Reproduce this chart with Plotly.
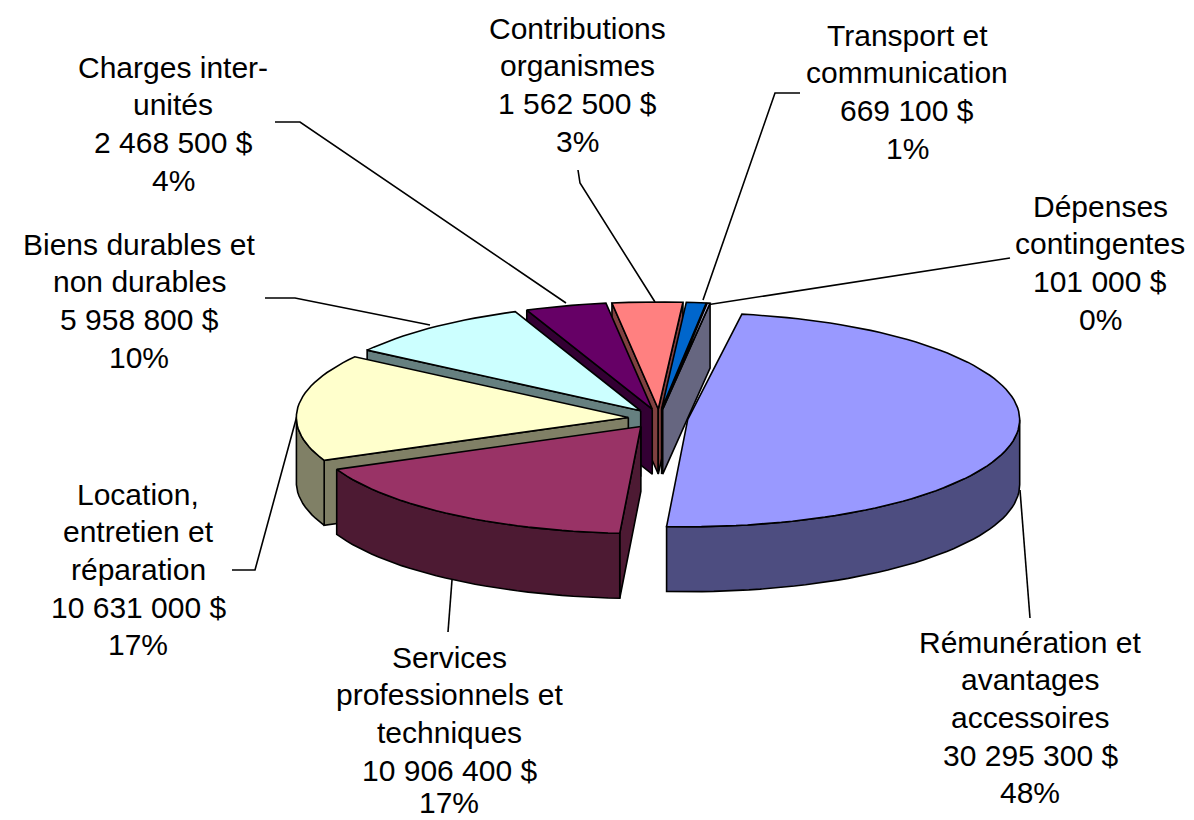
import math
import numpy as np
import plotly.graph_objects as go

# ---- data ----
categories = ["Rémunération et avantages accessoires", "Services professionnels et techniques",
              "Location, entretien et réparation", "Biens durables et non durables",
              "Charges inter-unités", "Contributions organismes",
              "Transport et communication", "Dépenses contingentes"]
values = [30295300, 10906400, 10631000, 5958800, 2468500, 1562500, 669100, 101000]
percent_labels = ["48%", "17%", "17%", "10%", "4%", "3%", "1%", "0%"]
label_lines = [["Rémunération et", "avantages", "accessoires"],
               ["Services", "professionnels et", "techniques"],
               ["Location,", "entretien et", "réparation"],
               ["Biens durables et", "non durables"],
               ["Charges inter-", "unités"],
               ["Contributions", "organismes"],
               ["Transport et", "communication"],
               ["Dépenses", "contingentes"]]

# ---- style and layout ----
top_colors = ["#9999FF", "#993366", "#FFFFCC", "#CCFFFF", "#660066", "#FF8080", "#0066CC", "#CCCCFF"]
wall_colors = ["#4D4D80", "#4D1A33", "#808066", "#668080", "#330033", "#804040", "#003366", "#666680"]
CX, CY, RX, RY, DEPTH = 658, 418.6, 332, 107, 65
EXPLODE, START = 0.09, 9.4
# small view distortion of the back of the pie (angle, shift in degrees)
WARP_T = [246.3, 307.5, 342, 356.5, 365.5, 369.4]
WARP_D = [0, -3, -4, -4, -0.5, -1.2]
label_x = [1030, 449, 138, 139, 173, 577, 907, 1100]
label_y = [642, 657, 494, 244, 67, 28, 35, 206]
LINE_H = 37.7
MAX_TEXT_Y = 802
leaders = ["M1030,618 L1020,490", "M448,632 L452,580", "M232,570 L255,570 L298,412",
           "M265,298 L295,298 L430,325", "M275,122 L300,122 L566,303",
           "M578,170 L580,183 L655,302", "M800,93 L775,93 L703,300", "M1010,258 L706,305"]


def point(t, off, r=1.0):
    a = math.radians(t + float(np.interp(t, WARP_T, WARP_D, left=0)))
    return (CX + RX * (off[0] + r * math.sin(a)), CY - RY * (off[1] + r * math.cos(a)))


def polygon(pts, color):
    return go.Scatter(x=[p[0] for p in pts] + [pts[0][0]], y=[p[1] for p in pts] + [pts[0][1]],
                      mode="lines", fill="toself", fillcolor=color,
                      line=dict(color="black", width=1.6), hoverinfo="skip", showlegend=False)


total = sum(values)
slices = []
t0 = START
for i, v in enumerate(values):
    t1 = t0 + 360 * v / total
    mid = math.radians((t0 + t1) / 2)
    slices.append(dict(i=i, t0=t0, t1=t1, mid=(t0 + t1) / 2,
                       off=(EXPLODE * math.sin(mid), EXPLODE * math.cos(mid))))
    t0 = t1

fig = go.Figure()
for s in sorted(slices, key=lambda q: -math.cos(math.radians(q["mid"]))):
    i, off = s["i"], s["off"]
    n = max(3, int((s["t1"] - s["t0"]) / 2))
    arc = [point(s["t0"] + (s["t1"] - s["t0"]) * k / n, off) for k in range(n + 1)]
    apex = point(0, off, 0.0)
    cxm = sum(p[0] for p in arc + [apex]) / (n + 2)
    cym = sum(p[1] for p in arc + [apex]) / (n + 2)
    # radial walls that face the viewer
    for rim in (arc[0], arc[-1]):
        ex, ey = rim[0] - apex[0], rim[1] - apex[1]
        nx, ny = -ey, ex
        if nx * (cxm - apex[0]) + ny * (cym - apex[1]) > 0:
            nx, ny = -nx, -ny
        if ny > 0:
            fig.add_trace(polygon([apex, rim, (rim[0], rim[1] + DEPTH), (apex[0], apex[1] + DEPTH)],
                                  wall_colors[i]))
    # outer wall on the front half of the pie
    lo, hi = max(s["t0"], 90), min(s["t1"], 270)
    if hi > lo:
        m = max(3, int((hi - lo) / 2))
        wall = [point(lo + (hi - lo) * k / m, off) for k in range(m + 1)]
        fig.add_trace(polygon(wall + [(p[0], p[1] + DEPTH) for p in reversed(wall)], wall_colors[i]))
    fig.add_trace(polygon([apex] + arc, top_colors[i]))

annotations = []
for i, v in enumerate(values):
    amount = f"{v:,}".replace(",", " ") + " $"
    for k, line in enumerate(label_lines[i] + [amount, percent_labels[i]]):
        annotations.append(dict(x=label_x[i], y=min(label_y[i] + k * LINE_H, MAX_TEXT_Y), text=line,
                                showarrow=False, xref="x", yref="y", xanchor="center", yanchor="middle",
                                font=dict(family="Liberation Sans", size=30, color="black")))

shapes = [dict(type="path", path=p, xref="x", yref="y", layer="below",
               line=dict(color="black", width=1.6)) for p in leaders]

fig.update_layout(width=1194, height=820, margin=dict(l=0, r=0, t=0, b=0),
                  paper_bgcolor="white", plot_bgcolor="white", showlegend=False,
                  annotations=annotations, shapes=shapes,
                  xaxis=dict(range=[0, 1194], visible=False, fixedrange=True),
                  yaxis=dict(range=[820, 0], visible=False, fixedrange=True))
fig.write_html("out.html", config=dict(displayModeBar=False),
               post_script="document.body.style.margin='0';document.body.style.overflow='hidden';")
